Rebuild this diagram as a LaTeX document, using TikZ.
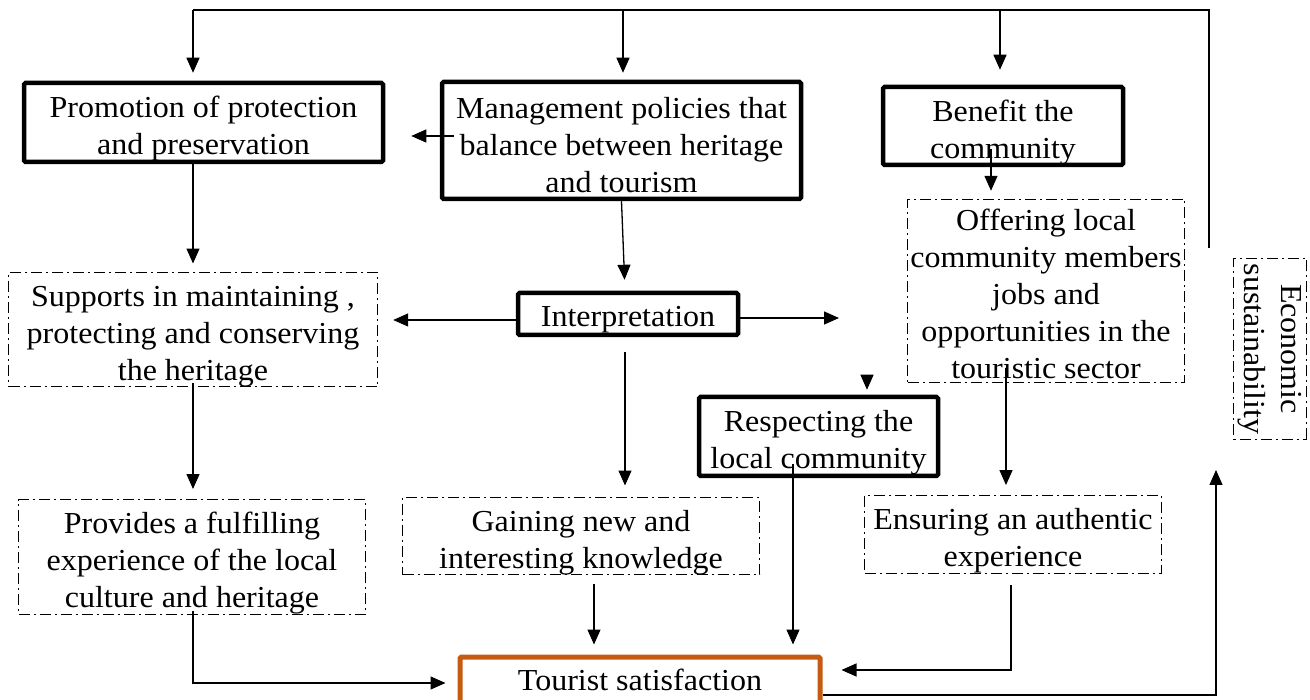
\documentclass[tikz,border=0pt]{standalone}
\usepackage{fontspec}
\setmainfont{Liberation Serif}[FakeStretch=1.05]
\usetikzlibrary{arrows.meta,calc}
\definecolor{rust}{HTML}{C55A11}
% invisible strut that lowers a text block inside its frame
\newcommand{\toppad}[1][34pt]{\rule{0pt}{#1}}
\begin{document}
\begin{tikzpicture}[x=1pt,y=-1pt,
  every node/.style={font=\fontsize{30.5}{37}\selectfont, align=center, inner sep=0pt},
  boldbox/.style={draw, line width=4.5pt, rounded corners=1.5pt},
  dashbox/.style={draw, line width=1.4pt, dash pattern=on 11pt off 4pt on 2pt off 4pt},
  goalbox/.style={draw=rust, line width=5pt, rounded corners=1.5pt},
  wire/.style={line width=1.3pt},
  conn/.style={wire, -{Triangle[length=15pt,width=13pt]}},
]
\useasboundingbox (0,0) rectangle (1310,700);
\clip (0,0) rectangle (1310,700);

% ---- boxes ----
\node[boldbox, minimum width=359pt, minimum height=79pt]  (prom)   at (203.5,122.5) {\toppad Promotion of protection\\and preservation};
\node[boldbox, minimum width=359pt, minimum height=117pt] (mgmt)   at (621.5,140.5) {\toppad[30pt]Management policies that\\balance between heritage\\and tourism};
\node[boldbox, minimum width=240pt, minimum height=78pt]  (bene)   at (1003,126)    {\toppad Benefit the\\community};
\node[boldbox, minimum width=220pt, minimum height=42pt]  (interp) at (628,314)     {\toppad[32pt]Interpretation};
\node[boldbox, minimum width=239pt, minimum height=79pt]  (resp)   at (818.5,436.5) {\toppad Respecting the\\local community};
\node[goalbox, minimum width=360pt, minimum height=46pt]  (tour)   at (640,680)     {Tourist satisfaction};

\node[dashbox, minimum width=369pt, minimum height=110pt] (supp)  at (193,329.5)  {\toppad Supports in maintaining ,\\protecting and conserving\\the heritage};
\node[dashbox, minimum width=277pt, minimum height=183pt] (offer) at (1046,291)   {\toppad[27pt]Offering local\\community members\\jobs and\\opportunities in the\\touristic sector};
\node[dashbox, rotate=-90, minimum width=181pt, minimum height=73pt] (econ) at (1270,349) {Economic\\sustainability};
\node[dashbox, minimum width=347pt, minimum height=109pt] (prov)  at (192,557)    {\toppad Provides a fulfilling\\experience of the local\\culture and heritage};
\node[dashbox, minimum width=357pt, minimum height=73pt]  (gain)  at (581,536)    {\toppad Gaining new and\\interesting knowledge};
\node[dashbox, minimum width=297pt, minimum height=72pt]  (ens)   at (1013,534.5) {\toppad Ensuring an authentic\\experience};

% ---- column positions and free ends ----
\coordinate (busR) at (1209,248);
\coordinate (bP) at (193,10);
\coordinate (bM) at (623,10);
\coordinate (bB) at (1000,10);
\coordinate (cA) at (193,0);
\coordinate (cG) at (594,0);
\coordinate (cR) at (793,0);
\coordinate (cB) at (991,0);
\coordinate (cO) at (1006,0);
\coordinate (cE) at (1011,0);
\coordinate (iR) at (839,318);
\coordinate (rT) at (867,375);
\coordinate (eB) at (1216,470);

% ---- feedback bus along the top ----
\draw[wire] (busR) |- (bP);
\draw[conn, shorten >=8pt]  (bP) -- (bP |- prom.north);
\draw[conn, shorten >=7pt]  (bM) -- (bM |- mgmt.north);
\draw[conn, shorten >=15pt] (bB) -- (bB |- bene.north);

% ---- management and interpretation ----
\draw[conn, shorten >=26pt] ($(mgmt.west)+(14,-4.5)$) coordinate (m1) -- (prom.east |- m1);
\draw[conn, shorten >=11pt] (mgmt.south) -- ($(interp.north)+(-3,0)$);
\draw[conn, shorten >=15pt] ($(interp.west)+(0,6)$) coordinate (i1) -- (supp.east |- i1);
\draw[conn] ($(interp.east)+(0,4)$) -- (iR);
\draw[conn, shorten <=15pt, shorten >=11pt] ($(interp.south)+(-3,0)$) coordinate (i2) -- (i2 |- gain.north);

% ---- left column ----
\draw[conn, shorten >=8pt]  ($(cA |- prom.south)+(0,-3)$) -- (cA |- supp.north);
\draw[conn, shorten >=10pt] ($(cA |- supp.south)+(0,-4)$) -- (cA |- prov.north);
\draw[conn, shorten >=12pt] ($(cA |- prov.south)+(0,-4)$) |- ($(tour.west)+(0,3)$);

% ---- middle ----
\draw[conn, shorten <=9pt, shorten >=10pt] (cG |- gain.south) -- (cG |- tour.north);
\draw[conn, shorten >=10pt] ($(cR |- resp.south)+(0,-14)$) -- (cR |- tour.north);
\draw[conn, shorten >=5pt] (rT) -- (rT |- resp.north);

% ---- right column ----
\draw[conn, shorten >=8pt]  ($(cB |- bene.south)+(0,-18)$) -- (cB |- offer.north);
\draw[conn, shorten >=10pt] ($(cO |- offer.south)+(0,-15)$) -- (cO |- ens.north);
\draw[conn, shorten <=11pt, shorten >=19pt] (cE |- ens.south) |- ($(tour.east)+(0,-10)$);
\draw[conn] ($(tour.east)+(0,15)$) -| (eB);
\end{tikzpicture}
\end{document}
